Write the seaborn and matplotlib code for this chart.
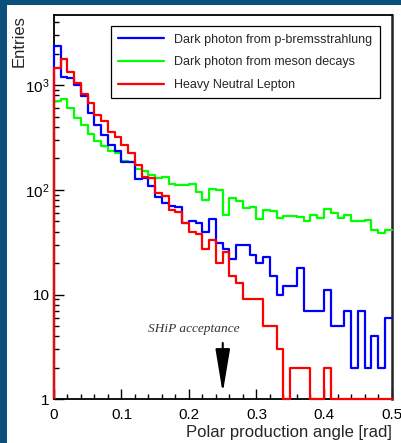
import numpy as np
import pandas as pd
import matplotlib
matplotlib.use("Agg")
import matplotlib.pyplot as plt
from matplotlib.lines import Line2D
from matplotlib.patches import Rectangle
from matplotlib.ticker import FixedLocator, FixedFormatter, MultipleLocator, NullFormatter
import seaborn as sns

sns.set_style("ticks")
plt.rcParams["font.family"] = ["Liberation Sans", "DejaVu Sans"]
plt.rcParams["mathtext.default"] = "regular"

# Binning of the polar production angle [rad]
bin_edges = [round(0.01 * i, 2) for i in range(51)]
bin_centers = [0.5 * (a + b) for a, b in zip(bin_edges[:-1], bin_edges[1:])]

# Entries per bin
brems_entries = [2370, 1200, 1180, 1000, 780, 540, 415, 334, 270, 235,
                 185, 185, 127, 130, 110, 86, 75, 70, 69, 48,
                 50, 48, 40, 53, 31, 27, 22, 30, 30, 24,
                 20, 23, 15, 10, 12, 12, 18, 7, 7, 7,
                 11, 5, 5, 7, 2, 7, 2, 4, 2, 6]
meson_entries = [710, 730, 600, 485, 415, 340, 295, 260, 233, 223,
                 190, 184, 157, 150, 140, 130, 132, 113, 111, 111,
                 114, 96, 80, 102, 100, 58, 84, 79, 67, 69,
                 53, 64, 63, 54, 56, 56, 55, 50, 58, 54,
                 66, 60, 54, 57, 51, 51, 52, 41, 38.5, 41]
hnl_entries = [1475, 1770, 1346, 1040, 830, 670, 520, 450, 360, 322,
               268, 223, 172, 134, 130, 94, 87, 64, 62, 48,
               40, 38, 27, 33, 20, 25.6, 15, 12.8, 9, 9,
               9, 5, 5, 3, 1, 2, 2, 2, 1, 1,
               2, 1, 1, 1, 1, 1, 1, 1, 1, 1]

series_labels = ["Dark photon from p-bremsstrahlung",
                 "Dark photon from meson decays",
                 "Heavy Neutral Lepton"]
series_colors = ["#0000ff", "#00ff00", "#ff0000"]

x_ticks = [0.0, 0.1, 0.2, 0.3, 0.4, 0.5]
x_tick_labels = ["0", "0.1", "0.2", "0.3", "0.4", "0.5"]
y_ticks = [1, 10, 100, 1000]
y_tick_labels = ["1", "10", "$10^{2}$", "$10^{3}$"]
y_range = (1.0, 4680.0)
acceptance_angle = 0.25

fig = plt.figure(figsize=(4.01, 4.43), dpi=100)
fig.patch.set_facecolor("white")
# slide-style frame band on the left and top
fig.patches.append(Rectangle((0, 0), 7 / 401, 1, transform=fig.transFigure,
                             facecolor="#0b4f7d", edgecolor="none", zorder=0))
fig.patches.append(Rectangle((0, 1 - 5 / 443), 1, 5 / 443, transform=fig.transFigure,
                             facecolor="#0b4f7d", edgecolor="none", zorder=0))

ax = fig.add_axes([0.13466, 0.09865, 0.84165, 0.86749])

draw_order = [(meson_entries, series_colors[1]),
              (brems_entries, series_colors[0]),
              (hnl_entries, series_colors[2])]
for entries, color in draw_order:
    df = pd.DataFrame({"angle": bin_centers, "entries": entries})
    sns.histplot(data=df, x="angle", weights="entries", bins=bin_edges,
                 element="step", fill=False, color=color, linewidth=1.6,
                 ax=ax, zorder=3)
    ax.lines[-1].set_clip_on(False)
    ax.vlines(bin_edges[0], y_range[0], entries[0], color=color,
              linewidth=1.6, zorder=3, clip_on=False)

ax.set_yscale("log")
ax.set_xlim(bin_edges[0], bin_edges[-1])
ax.set_ylim(*y_range)

ax.xaxis.set_major_locator(FixedLocator(x_ticks))
ax.xaxis.set_major_formatter(FixedFormatter(x_tick_labels))
ax.xaxis.set_minor_locator(MultipleLocator(0.02))
ax.yaxis.set_major_locator(FixedLocator(y_ticks))
ax.yaxis.set_major_formatter(FixedFormatter(y_tick_labels))
minor_y = [m * 10 ** d for d in range(0, 4) for m in range(2, 10)]
ax.yaxis.set_minor_locator(FixedLocator(minor_y))
ax.yaxis.set_minor_formatter(NullFormatter())

ax.tick_params(axis="both", which="both", direction="in", top=False,
               right=False, colors="black", width=1.0, labelsize=11)
ax.tick_params(axis="both", which="major", length=7.2)
ax.tick_params(axis="both", which="minor", length=3.4)
ax.tick_params(axis="x", which="major", pad=6)
ax.tick_params(axis="y", which="major", pad=3)

for side in ["left", "bottom", "top"]:
    ax.spines[side].set_color("black")
    ax.spines[side].set_linewidth(1.3)
ax.spines["right"].set_color("#222222")
ax.spines["right"].set_linewidth(1.8)

ax.set_xlabel("Polar production angle [rad]", fontsize=12, loc="right")
ax.xaxis.set_label_coords(1.0, -0.068)
ax.set_ylabel("Entries", fontsize=12, loc="top")
ax.yaxis.set_label_coords(-0.08, 1.0)

handles = [Line2D([], [], color=c, linewidth=1.6) for c in series_colors]
leg = ax.legend(handles, series_labels, loc="upper right",
                bbox_to_anchor=(0.966, 0.971), fontsize=9, frameon=True,
                fancybox=False, framealpha=1, edgecolor="black",
                handlelength=3.7, handletextpad=0.8, labelspacing=0.85,
                borderpad=0.6, borderaxespad=0)
leg.get_frame().set_linewidth(0.9)

ax.text(0.207, 4.7, "SHiP acceptance", fontsize=9.6, style="italic",
        family=["Liberation Serif", "DejaVu Serif"], color="#333333",
        ha="center", va="center")
ax.annotate("", xy=(acceptance_angle, 1.15), xytext=(acceptance_angle, 3.45),
            arrowprops=dict(arrowstyle="-|>,head_length=2.7,head_width=0.45",
                            color="black", lw=1.5, shrinkA=0, shrinkB=0,
                            mutation_scale=10))

fig.savefig("out.png", dpi=100)
